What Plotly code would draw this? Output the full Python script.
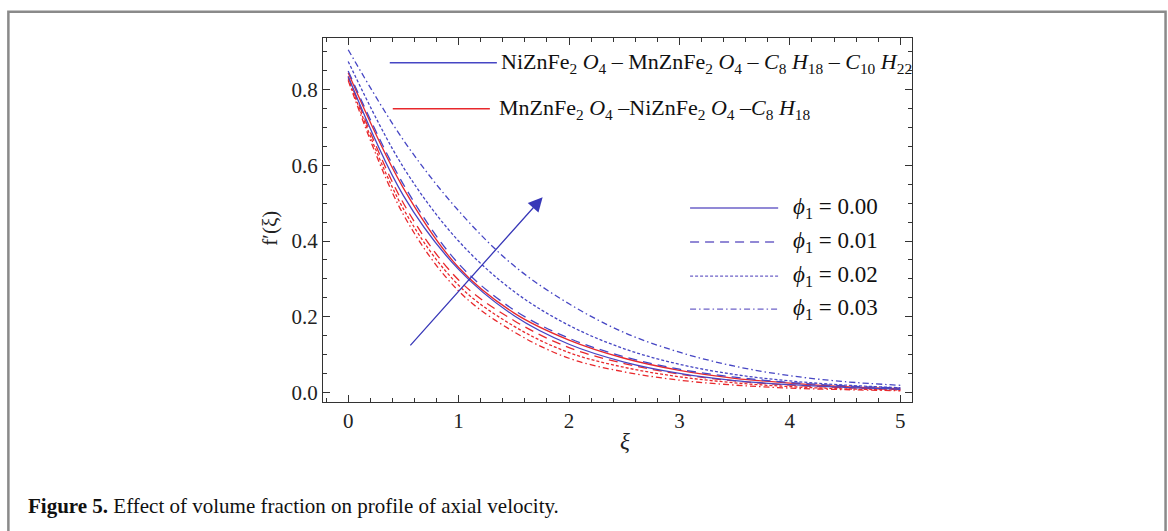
import plotly.graph_objects as go

# ---------------- data ----------------
xi = [0, 0.5, 1, 1.5, 2, 2.5, 3, 3.5, 4, 4.5, 5]

# NiZnFe2O4-MnZnFe2O4-C8H18-C10H22 (blue)
blue_phi000 = [0.835, 0.520, 0.325, 0.203, 0.127, 0.080, 0.050, 0.031, 0.020, 0.013, 0.008]
blue_phi001 = [0.850, 0.550, 0.340, 0.218, 0.143, 0.094, 0.061, 0.040, 0.026, 0.017, 0.011]
blue_phi002 = [0.875, 0.595, 0.400, 0.267, 0.177, 0.115, 0.074, 0.047, 0.030, 0.019, 0.012]
blue_phi003 = [0.906, 0.667, 0.480, 0.335, 0.234, 0.158, 0.106, 0.069, 0.044, 0.028, 0.0185]

# MnZnFe2O4-NiZnFe2O4-C8H18 (red)
red_phi000 = [0.845, 0.540, 0.330, 0.210, 0.138, 0.090, 0.058, 0.037, 0.024, 0.015, 0.010]
red_phi001 = [0.835, 0.500, 0.297, 0.190, 0.118, 0.076, 0.048, 0.030, 0.019, 0.012, 0.007]
red_phi002 = [0.830, 0.485, 0.283, 0.175, 0.105, 0.066, 0.041, 0.025, 0.015, 0.009, 0.006]
red_phi003 = [0.825, 0.470, 0.268, 0.160, 0.090, 0.054, 0.032, 0.019, 0.011, 0.007, 0.004]

phi_labels = ["0.00", "0.01", "0.02", "0.03"]
x_ticks = [0, 1, 2, 3, 4, 5]
y_ticks = [0.0, 0.2, 0.4, 0.6, 0.8]

# arrow (data coords)
arrow_tail = (0.551, 0.120)
arrow_head = (1.761, 0.516)

# ---------------- styles ----------------
BLUE = "#4646c4"
RED = "#e8282c"
LEG_PURPLE = "#6d62c8"
FONT = "Liberation Serif"
dashes = ["solid", "9px,6px", "3px,2px", "6px,3px,1.5px,3px"]

fig = go.Figure()

for series, dash in zip([red_phi003, red_phi002, red_phi001, red_phi000], dashes[::-1]):
    fig.add_trace(go.Scatter(x=xi, y=series, mode="lines",
                             line=dict(color=RED, width=1.3, dash=dash, shape="spline", smoothing=1.0),
                             showlegend=False, hoverinfo="skip"))
for series, dash in zip([blue_phi000, blue_phi001, blue_phi002, blue_phi003], dashes):
    fig.add_trace(go.Scatter(x=xi, y=series, mode="lines",
                             line=dict(color=BLUE, width=1.3, dash=dash, shape="spline", smoothing=1.0),
                             showlegend=False, hoverinfo="skip"))

# plot-area geometry in pixels (for legend placement in paper coords)
L, R, T, B = 323.3, 911.7, 38.3, 401.7
def px(x):
    return (x - L) / (R - L)
def py(y):
    return (B - y) / (B - T)

shapes = []
annotations = []

# material legend (top)
mat_items = [
    (BLUE, 390, 497, 63, 499,
     "NiZnFe<sub>2</sub> <i>O</i><sub>4</sub> \u2013 MnZnFe<sub>2</sub> <i>O</i><sub>4</sub> \u2013 "
     "<i>C</i><sub>8</sub> <i>H</i><sub>18</sub> \u2013 <i>C</i><sub>10</sub> <i>H</i><sub>22</sub>"),
    (RED, 393, 490, 109, 497,
     "MnZnFe<sub>2</sub> <i>O</i><sub>4</sub> \u2013NiZnFe<sub>2</sub> <i>O</i><sub>4</sub> \u2013"
     "<i>C</i><sub>8</sub> <i>H</i><sub>18</sub>"),
]
for color, x0, x1, yy, xt, txt in mat_items:
    shapes.append(dict(type="line", xref="paper", yref="paper",
                       x0=px(x0), x1=px(x1), y0=py(yy), y1=py(yy),
                       line=dict(color=color, width=1.4)))
    annotations.append(dict(xref="paper", yref="paper", x=px(xt), y=py(yy),
                            xanchor="left", yanchor="middle", showarrow=False,
                            text=txt, font=dict(family=FONT, size=22, color="#111")))

# phi legend (right)
rows_y = [208, 242, 276, 309]
for lab, dash, yy in zip(phi_labels, dashes, rows_y):
    shapes.append(dict(type="line", xref="paper", yref="paper",
                       x0=px(690), x1=px(778), y0=py(yy), y1=py(yy),
                       line=dict(color=LEG_PURPLE, width=1.4, dash=dash)))
    annotations.append(dict(xref="paper", yref="paper", x=px(791), y=py(yy),
                            xanchor="left", yanchor="middle", showarrow=False,
                            text="<i>\u03d5</i><sub>1</sub> = " + lab,
                            font=dict(family=FONT, size=23, color="#111")))

# arrow
annotations.append(dict(x=arrow_head[0], y=arrow_head[1], ax=arrow_tail[0], ay=arrow_tail[1],
                        xref="x", yref="y", axref="x", ayref="y", text="",
                        showarrow=True, arrowhead=2, arrowsize=2.2, arrowwidth=1.3,
                        arrowcolor="#3838b8"))

# axis titles
annotations.append(dict(xref="paper", yref="paper", x=px(270), y=py(228),
                        text="f\u2032(\u03be)", textangle=-90, showarrow=False,
                        xanchor="center", yanchor="middle",
                        font=dict(family=FONT, size=21, color="#222")))
annotations.append(dict(xref="paper", yref="paper", x=px(625), y=py(441),
                        text="<i>\u03be</i>", showarrow=False,
                        xanchor="center", yanchor="middle",
                        font=dict(family=FONT, size=23, color="#222")))

# caption
annotations.append(dict(xref="paper", yref="paper", x=px(27), y=py(506),
                        text="<b>Figure 5.</b> Effect of volume fraction on profile of axial velocity.",
                        showarrow=False, xanchor="left", yanchor="middle",
                        font=dict(family=FONT, size=21, color="#111")))

# outer frame
shapes.append(dict(type="rect", xref="paper", yref="paper",
                   x0=px(9), x1=px(1165), y0=py(560), y1=py(12),
                   line=dict(color="#8a8a8a", width=2.5), fillcolor="rgba(0,0,0,0)",
                   layer="below"))

axis_common = dict(showgrid=False, zeroline=False, showline=True, linecolor="#333",
                   linewidth=1.3, mirror="allticks", ticks="inside", ticklen=7,
                   tickwidth=1, tickcolor="#333",
                   tickfont=dict(family=FONT, size=21, color="#222"))

fig.update_layout(
    width=1168, height=531,
    margin=dict(l=323, r=256, t=38, b=129, pad=0),
    paper_bgcolor="white", plot_bgcolor="white",
    showlegend=False,
    xaxis=dict(range=[-0.228, 5.106], tickvals=x_ticks,
               ticktext=[str(v) for v in x_ticks],
               minor=dict(dtick=0.2, tick0=0, ticks="inside", ticklen=4, tickcolor="#333"),
               **axis_common),
    yaxis=dict(range=[-0.0257, 0.937], tickvals=y_ticks,
               ticktext=[f"{v:.1f}" for v in y_ticks],
               minor=dict(dtick=0.05, tick0=0, ticks="inside", ticklen=4, tickcolor="#333"),
               **axis_common),
    shapes=shapes,
    annotations=annotations,
)

fig.write_html("out.html")
